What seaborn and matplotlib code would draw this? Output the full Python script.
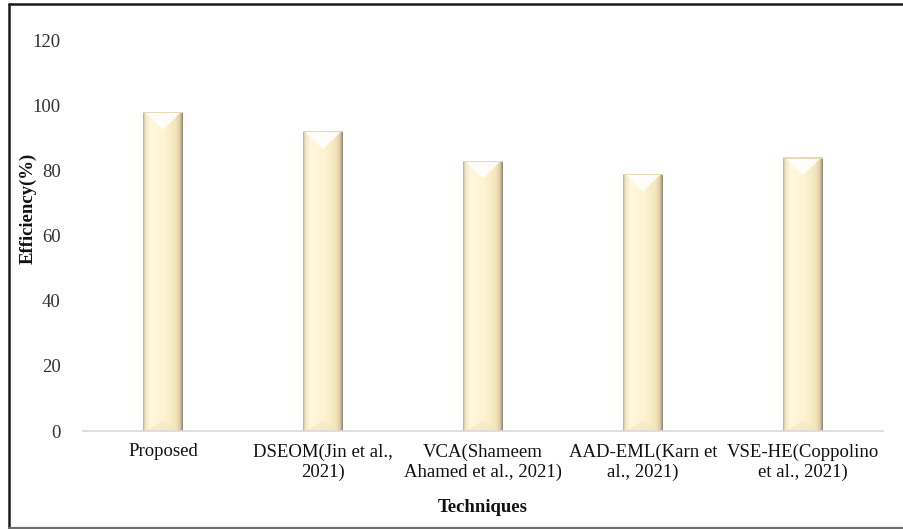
import numpy as np
import pandas as pd
import seaborn as sns
import matplotlib
matplotlib.use("Agg")
import matplotlib.pyplot as plt
from matplotlib.colors import LinearSegmentedColormap
from matplotlib.patches import Polygon, Rectangle
from matplotlib.lines import Line2D

# Efficiency of each technique
techniques = [
    "Proposed",
    "DSEOM(Jin et al.,\n2021)",
    "VCA(Shameem\nAhamed et al., 2021)",
    "AAD-EML(Karn et\nal., 2021)",
    "VSE-HE(Coppolino\net al., 2021)",
]
efficiency = [98, 92, 83, 79, 84]
y_ticks = [0, 20, 40, 60, 80, 100, 120]

df = pd.DataFrame({"Techniques": techniques, "Efficiency": efficiency})

sns.set_theme(style="white")
plt.rcParams["font.family"] = ["Liberation Serif", "DejaVu Serif"]

W, H = 904, 529
fig = plt.figure(figsize=(W / 100, H / 100), dpi=100)
ax = fig.add_axes([83 / W, (H - 431) / H, 800 / W, 391 / H])

sns.barplot(data=df, x="Techniques", y="Efficiency", ax=ax,
            color="#FCF2CF", width=0.245, saturation=1, edgecolor="none")

ax.set_ylim(0, 120)
ax.set_yticks(y_ticks)
ax.set_xlim(-0.5, len(techniques) - 0.5)
ax.set_xlabel("")
ax.set_ylabel("")

for s in ["top", "right", "left"]:
    ax.spines[s].set_visible(False)
ax.spines["bottom"].set_color("#D9D9D9")
ax.spines["bottom"].set_linewidth(1.2)

ax.tick_params(axis="y", length=0, pad=16, labelsize=13.5, colors="#333333")
ax.tick_params(axis="x", length=0, pad=9, labelsize=13.5, colors="#111111")
for lbl in ax.get_xticklabels():
    lbl.set_linespacing(1.2)

# Bevelled shading for each bar
cmap = LinearSegmentedColormap.from_list(
    "cream",
    [(0.0, "#B7AE94"), (0.05, "#EDE4C4"), (0.18, "#FFF8DE"),
     (0.55, "#FDF3D2"), (0.82, "#F3E6BE"), (0.93, "#DDCD9F"), (1.0, "#8F8467")])
grad = np.linspace(0, 1, 200).reshape(1, -1)
px_per_unit = 391 / 120
for patch in list(ax.patches):
    x0, w, h = patch.get_x(), patch.get_width(), patch.get_height()
    im = ax.imshow(grad, cmap=cmap, aspect="auto", extent=(x0, x0 + w, 0, h),
                   zorder=patch.get_zorder() + 0.1, interpolation="bilinear")
    im.set_clip_path(patch)
    depth = 18 / px_per_unit
    top = Polygon([(x0 + 0.03 * w, h), (x0 + 0.97 * w, h), (x0 + 0.5 * w, h - depth)],
                  closed=True, facecolor="white", alpha=0.85, edgecolor="none",
                  zorder=patch.get_zorder() + 0.2)
    ax.add_patch(top)
    rim = Rectangle((x0, h - 1.2 / px_per_unit), w, 1.2 / px_per_unit,
                    facecolor="#E4DAB8", edgecolor="none", zorder=patch.get_zorder() + 0.3)
    ax.add_patch(rim)
    bdepth = 10 / px_per_unit
    bottom = Polygon([(x0 + 0.05 * w, 0), (x0 + 0.95 * w, 0), (x0 + 0.5 * w, bdepth)],
                     closed=True, facecolor="#F2E6C2", alpha=0.6, edgecolor="none",
                     zorder=patch.get_zorder() + 0.2)
    ax.add_patch(bottom)

fig.text(483 / W, 1 - 508 / H, "Techniques", ha="center", va="center",
         fontsize=13.5, fontweight="bold", color="#111111")
fig.text(28 / W, 1 - 208 / H, "Efficiency(%)", ha="center", va="center",
         rotation=90, fontsize=13.5, fontweight="bold", color="#111111")

# Frame around the chart: dark top and left edges, grey bottom edge
left, top_y, bot_y = 8.5 / W, 1 - 4 / H, 1.5 / H
fig.lines.append(Line2D([left, 1.0], [top_y, top_y], transform=fig.transFigure,
                        color="#1A1A1A", linewidth=1.8))
fig.lines.append(Line2D([left, left], [bot_y, top_y], transform=fig.transFigure,
                        color="#1A1A1A", linewidth=1.8))
fig.lines.append(Line2D([left, 1.0], [bot_y, bot_y], transform=fig.transFigure,
                        color="#6E6E6E", linewidth=1.6))

fig.savefig("out.png", dpi=100)
